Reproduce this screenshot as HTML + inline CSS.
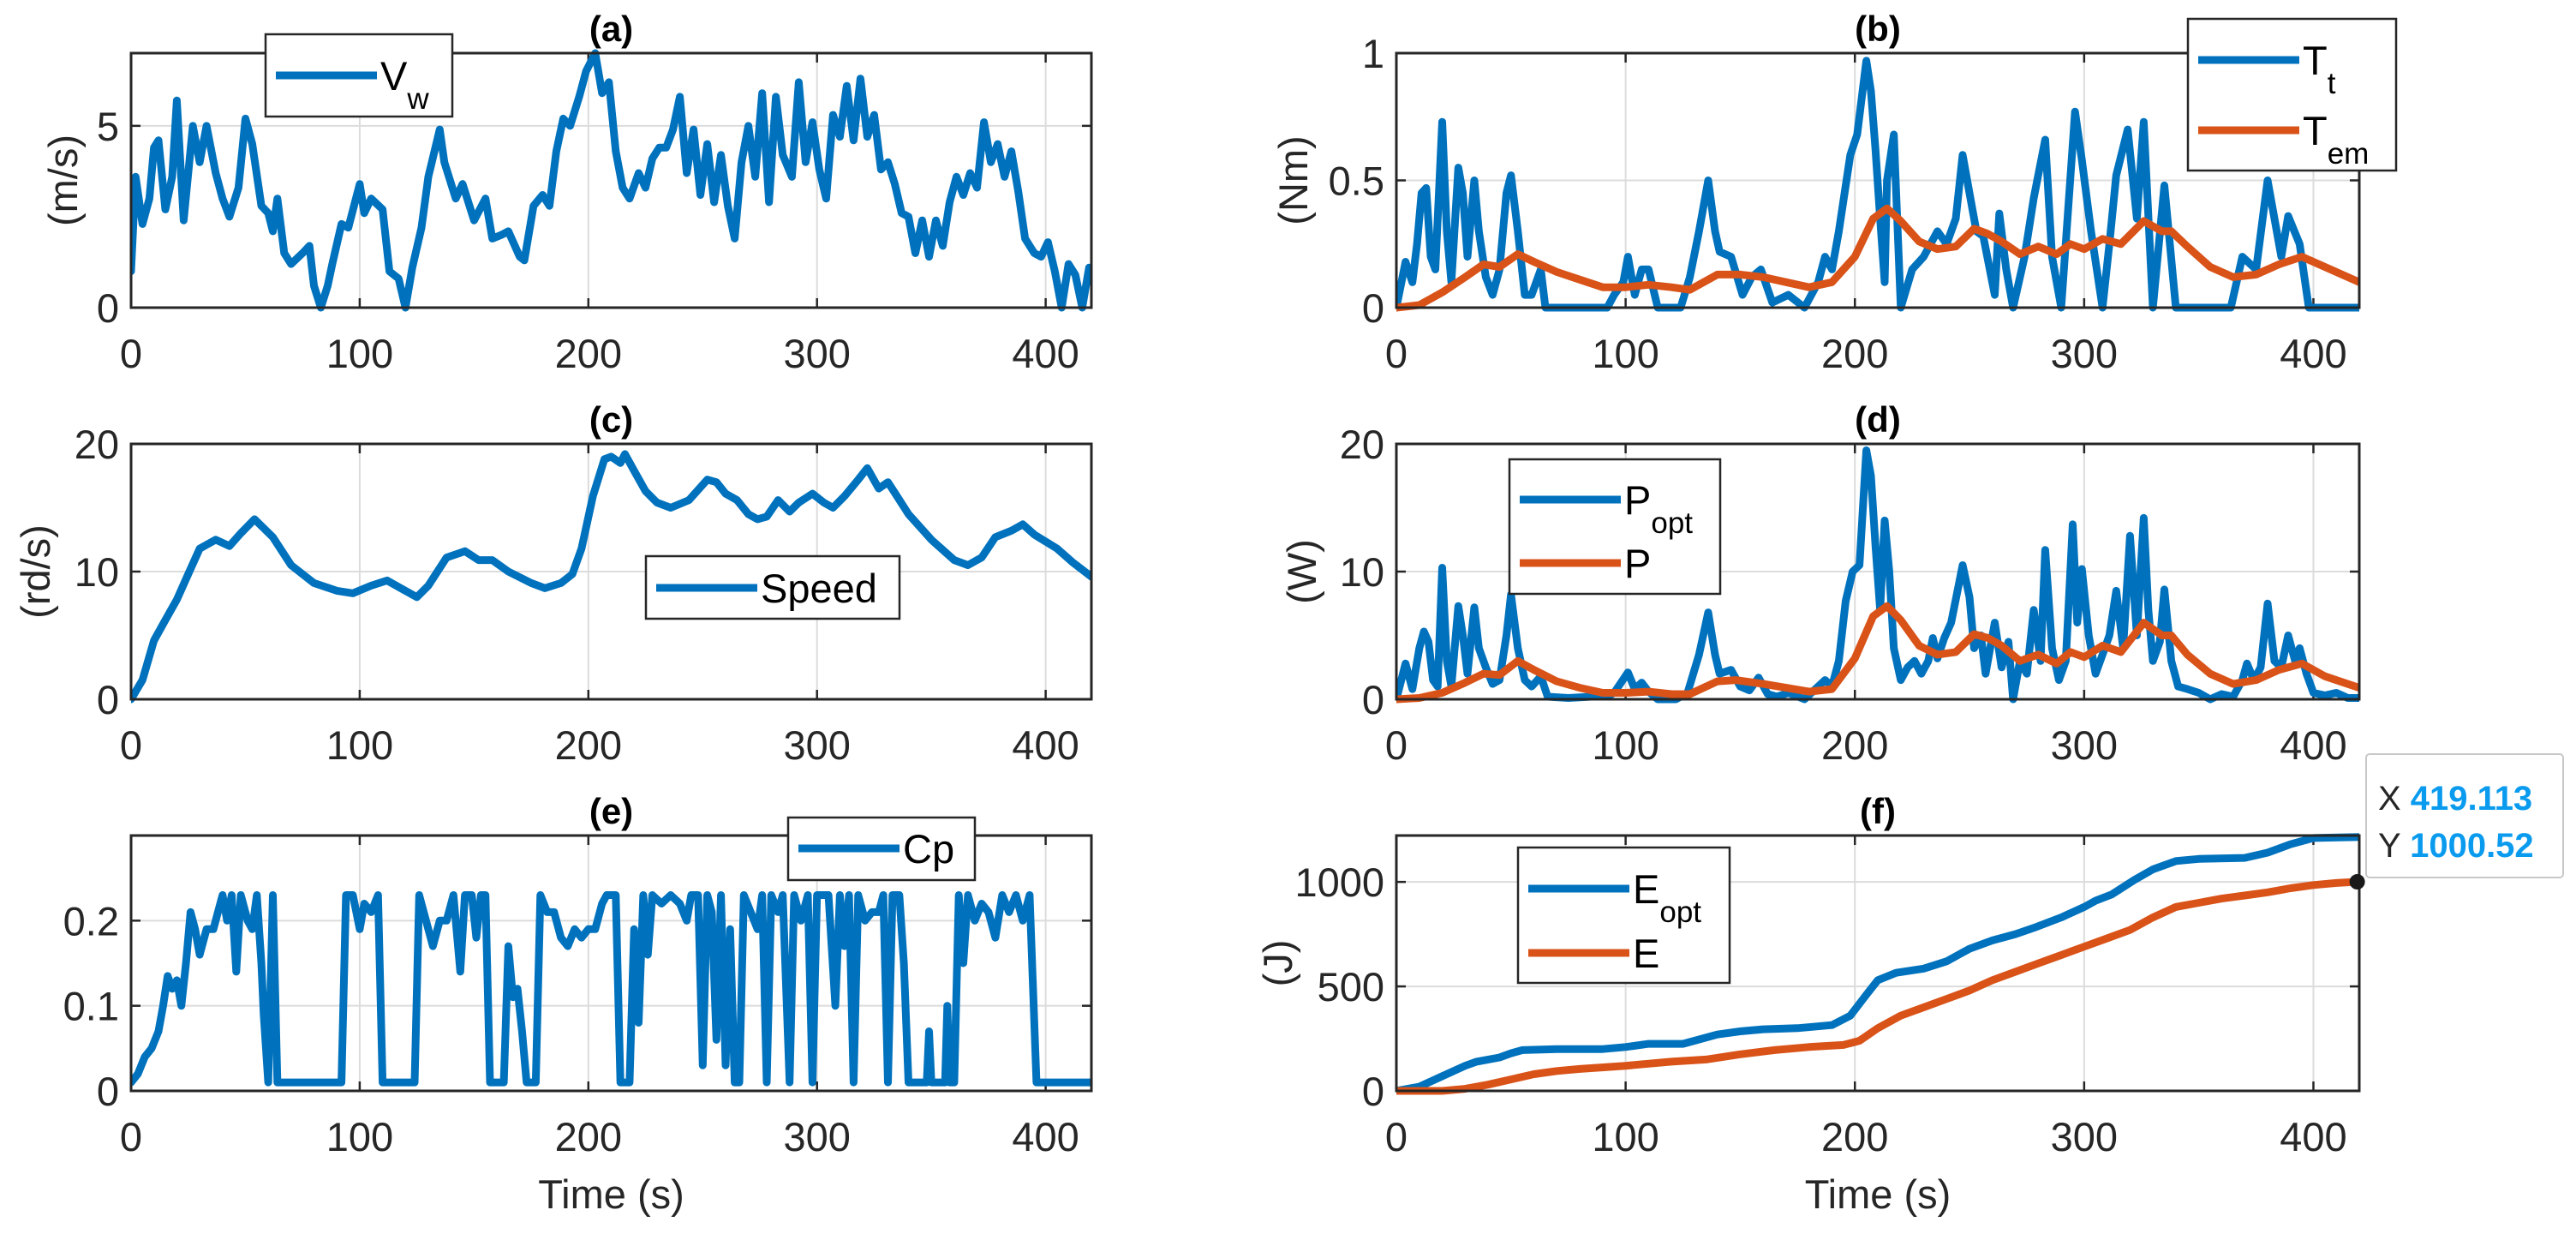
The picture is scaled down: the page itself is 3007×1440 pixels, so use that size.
<!DOCTYPE html>
<html><head><meta charset="utf-8"><style>
html,body{margin:0;padding:0;background:#fff;}
svg{display:block;font-family:"Liberation Sans",Arial,sans-serif;}
</style></head><body>
<svg id="fig" width="3007" height="1440" viewBox="0 0 3007 1440"></svg>
<script>
// ---------- DATA ----------
const xTicks=[0,100,200,300,400];
const xTickLabels=["0","100","200","300","400"];
// (a) wind speed
const aTime=[0,2,5,8,10,12,15,18,20,23,27,30,33,37,40,43,47,50,53,57,60,62,64,67,70,75,78,80,83,86,88,92,95,100,102,105,110,113,117,120,123,127,130,135,137,142,145,150,155,158,162,165,170,172,176,180,183,186,189,192,196,199,203,206,209,212,215,218,222,225,228,231,234,237,240,243,246,249,252,255,258,261,264,267,270,273,276,279,282,285,289,292,295,298,301,304,307,310,313,316,319,322,325,328,331,334,337,340,343,346,349,352,355,358,361,364,367,370,373,376,379,382,385,388,391,395,398,401,404,407,410,413,416,419];
const aVw=[1.0,3.6,2.3,3.0,4.4,4.6,2.7,3.6,5.7,2.4,5.0,4.0,5.0,3.7,3.0,2.5,3.3,5.2,4.5,2.8,2.6,2.1,3.0,1.5,1.2,1.5,1.7,0.6,0.0,0.6,1.2,2.3,2.2,3.4,2.6,3.0,2.7,1.0,0.8,0.0,1.1,2.2,3.6,4.9,4.0,3.0,3.4,2.4,3.0,1.9,2.0,2.1,1.4,1.3,2.8,3.1,2.8,4.3,5.2,5.0,5.8,6.5,7.0,5.9,6.2,4.3,3.3,3.0,3.7,3.3,4.1,4.4,4.4,4.9,5.8,3.7,4.9,3.1,4.5,2.9,4.2,2.8,1.9,4.0,5.0,3.6,5.9,2.9,5.8,4.2,3.6,6.2,4.0,5.1,3.8,3.0,5.3,4.7,6.1,4.6,6.3,4.7,5.3,3.8,4.0,3.4,2.6,2.5,1.5,2.4,1.4,2.4,1.7,2.9,3.6,3.1,3.7,3.3,5.1,4.0,4.5,3.6,4.3,3.2,1.9,1.5,1.4,1.8,1.0,0.0,1.2,0.9,0.0,1.1];
// (b) torques
const bTime=[0,4,7,9,11,13,15,17,20,22,24,27,29,31,34,36,39,42,45,48,50,53,56,59,63,65,92,95,99,101,104,107,110,114,124,128,132,136,139,141,146,151,155,159,164,171,178,184,187,190,193,198,201,205,207,209,211,213,214,217,220,225,230,236,240,244,247,250,253,256,261,263,266,269,274,278,283,286,290,296,299,303,308,311,314,319,323,326,330,335,340,364,369,375,380,386,389,394,398,420];
const bTt=[0,0.18,0.1,0.25,0.45,0.47,0.2,0.15,0.73,0.3,0.1,0.55,0.45,0.2,0.5,0.3,0.12,0.05,0.15,0.45,0.52,0.3,0.05,0.05,0.15,0,0,0.05,0.1,0.2,0.05,0.15,0.15,0,0,0.12,0.3,0.5,0.3,0.22,0.2,0.05,0.12,0.15,0.02,0.05,0,0.1,0.2,0.15,0.3,0.6,0.68,0.97,0.85,0.62,0.35,0.1,0.5,0.68,0.0,0.15,0.2,0.3,0.25,0.35,0.6,0.45,0.3,0.28,0.05,0.37,0.15,0,0.2,0.43,0.66,0.2,0,0.77,0.58,0.3,0,0.25,0.52,0.7,0.35,0.73,0,0.48,0,0,0.2,0.15,0.5,0.2,0.36,0.25,0,0];
const bTemTime=[0,10,20,30,38,45,53,60,70,80,90,100,110,120,128,140,150,160,170,180,190,200,208,214,220,228,236,244,252,258,264,272,280,288,294,300,308,316,326,334,338,345,355,365,375,385,395,405,420];
const bTem=[0,0.01,0.06,0.12,0.17,0.16,0.21,0.18,0.14,0.11,0.08,0.08,0.09,0.08,0.07,0.13,0.13,0.12,0.10,0.08,0.10,0.20,0.35,0.39,0.34,0.26,0.23,0.24,0.31,0.29,0.26,0.21,0.24,0.21,0.25,0.23,0.27,0.25,0.34,0.30,0.30,0.24,0.16,0.12,0.13,0.17,0.20,0.16,0.10];
// (c) speed
const cTime=[0,5,10,15,20,25,30,37,43,48,54,58,62,70,80,90,97,105,112,118,125,130,138,146,152,158,165,175,181,188,193,197,202,207,210,214,216,220,225,230,236,244,252,256,260,265,270,274,278,283,288,292,298,303,307,312,318,322,327,331,335,340,350,360,366,372,378,385,390,395,405,412,420];
const cSpeed=[0,1.5,4.6,6.2,7.8,9.8,11.8,12.5,12.0,13.0,14.1,13.4,12.7,10.5,9.1,8.5,8.3,8.9,9.3,8.7,8.0,8.9,11.1,11.6,10.9,10.9,10.0,9.1,8.7,9.1,9.8,11.8,15.9,18.8,19.0,18.5,19.2,17.9,16.3,15.4,15.0,15.6,17.2,17.0,16.1,15.6,14.5,14.1,14.3,15.6,14.7,15.4,16.1,15.4,15.0,15.9,17.2,18.1,16.5,17.0,15.9,14.5,12.5,10.9,10.5,11.1,12.7,13.2,13.7,12.9,11.8,10.7,9.6];
// (d) powers
const dTime=[0,4,7,10,12,14,16,18,20,22,24,27,29,31,34,36,39,42,45,48,50,53,56,59,63,66,75,85,92,95,101,104,107,110,114,122,127,132,136,139,141,146,150,154,158,162,166,171,178,184,187,190,193,196,199,202,205,207,209,211,213,215,217,220,223,226,229,232,234,236,239,242,247,250,252,255,257,261,264,267,269,272,275,278,281,283,286,289,292,295,297,299,302,305,308,311,314,317,320,323,326,328,330,333,335,338,341,345,350,355,360,365,369,371,374,377,380,383,386,389,392,394,397,400,405,410,415,420];
const dPopt=[0,2.8,0.8,4,5.3,4.5,1.5,1,10.3,3,1,7.3,5,2,7.2,4,2.5,1.2,1.5,5,8.2,4,1.5,1,1.8,0.2,0.1,0.2,0.2,0.5,2.1,0.8,1.3,0.6,0,0,0.5,3.5,6.8,3.5,2,2.3,1,0.7,1.7,0.4,0.2,0.5,0,1,1.5,1,3,7.7,10,10.5,19.5,17.5,12,7,14,10,4,1.5,2.5,3,2,3,4.8,3.2,4.8,6,10.5,8,4,5,2,6,2.5,4.5,0,3,2,7,3,11.7,4,1.5,3,13.7,6,10.2,5,2,3.5,5,8.5,4,12.8,5,14.2,7,3,4.5,8.6,3,1,0.8,0.5,0,0.4,0.2,1.5,2.8,1.5,2.5,7.5,3,2.5,5,3,4,2,0.5,0.3,0.5,0.1,0.1];
const dPTime=[0,10,20,30,38,45,53,60,70,80,90,100,110,120,128,140,148,160,170,180,190,200,208,214,220,228,236,244,252,258,264,272,280,288,294,300,308,316,326,334,338,345,355,365,375,385,395,405,420];
const dP=[0,0.1,0.5,1.3,2.0,1.9,3.0,2.3,1.4,0.9,0.5,0.5,0.6,0.4,0.4,1.4,1.5,1.2,0.9,0.6,0.8,3.2,6.5,7.3,6.2,4.2,3.5,3.7,5.1,4.8,4.2,3.0,3.5,2.8,3.7,3.3,4.2,3.7,6.0,5.0,5.0,3.5,2.0,1.2,1.5,2.3,2.8,1.8,0.9];
// (e) power coefficient
const eTime=[0,3,6,9,12,14,16,18,20,22,24,26,28,30,33,36,38,40,42,44,46,48,51,53,55,57,58,60,62,64,92,94,97,100,102,105,108,110,124,126,129,132,135,138,141,144,146,149,151,153,155,157,163,165,167,169,171,173,177,179,182,185,188,191,194,197,200,203,206,208,212,214,218,220,222,224,226,228,232,236,240,243,245,248,250,252,254,256,258,260,262,264,266,268,271,274,276,278,280,283,285,288,290,293,296,298,300,302,305,308,310,312,314,316,318,321,324,327,329,331,333,336,338,340,348,349,350,356,357,358,360,362,364,366,369,372,375,378,381,384,387,390,393,396,420];
const eCp=[0.01,0.02,0.04,0.05,0.07,0.1,0.135,0.12,0.13,0.1,0.15,0.21,0.19,0.16,0.19,0.19,0.21,0.23,0.2,0.23,0.14,0.23,0.2,0.19,0.23,0.15,0.09,0.01,0.23,0.01,0.01,0.23,0.23,0.19,0.22,0.21,0.23,0.01,0.01,0.23,0.2,0.17,0.2,0.2,0.23,0.14,0.23,0.23,0.18,0.23,0.23,0.01,0.01,0.17,0.11,0.12,0.07,0.01,0.01,0.23,0.21,0.21,0.18,0.17,0.19,0.18,0.19,0.19,0.22,0.23,0.23,0.01,0.01,0.19,0.08,0.23,0.16,0.23,0.22,0.23,0.22,0.2,0.23,0.23,0.03,0.23,0.21,0.06,0.23,0.03,0.19,0.01,0.01,0.23,0.21,0.19,0.23,0.01,0.23,0.21,0.23,0.01,0.23,0.2,0.23,0.01,0.23,0.23,0.23,0.1,0.23,0.17,0.23,0.01,0.23,0.2,0.21,0.21,0.23,0.01,0.23,0.23,0.15,0.01,0.01,0.07,0.01,0.01,0.1,0.01,0.01,0.23,0.15,0.23,0.2,0.22,0.21,0.18,0.23,0.21,0.23,0.2,0.23,0.01,0.01];
// (f) energies
const fOptTime=[0,10,20,30,35,45,50,55,70,90,100,110,125,130,140,150,160,175,190,198,205,210,218,230,240,250,260,270,278,290,300,305,312,322,330,340,350,370,380,390,400,420];
const fEopt=[0,20,70,120,140,160,180,195,200,200,210,225,225,240,270,285,295,300,315,360,460,530,565,585,620,680,720,750,780,830,880,910,940,1010,1060,1100,1110,1115,1140,1180,1210,1215];
const fETime=[0,20,30,40,50,60,70,80,100,120,135,150,165,180,195,202,210,220,230,240,250,260,270,280,290,300,310,320,330,340,350,360,370,380,390,400,410,419.113];
const fE=[0,0,10,30,55,80,95,105,120,140,150,175,195,210,220,240,300,360,400,440,480,530,570,610,650,690,730,770,830,880,900,920,935,950,970,985,995,1000.52];
const tipX=419.113, tipY=1000.52;

// ---------- DRAW ----------
const NS="http://www.w3.org/2000/svg";
const svg=document.getElementById('fig');
const BLUE="#0072BD", ORANGE="#D95319";
function mk(tag,attrs,parent){const e=document.createElementNS(NS,tag);for(const k in attrs)e.setAttribute(k,attrs[k]);(parent||svg).appendChild(e);return e;}

const LX=[153,1274], RX=[1630,2754];
const ROWS=[[62,359],[518,816],[975,1273]];
function makeAxes(name,xr,yr,ymax,yticks,ylabels,title,ylab,ylabX,timeLabel){
  const g=mk('g',{});
  
  
  const sx=v=>xr[0]+(v/420)*(xr[1]-xr[0]);
  const sy=v=>yr[1]-(v/ymax)*(yr[1]-yr[0]);
  mk('rect',{x:xr[0],y:yr[0],width:xr[1]-xr[0],height:yr[1]-yr[0],fill:'#fff'},g);
  xTicks.forEach((t,i)=>{
    const X=sx(t);
    const gl=mk('line',{x1:X,x2:X,y1:yr[0],y2:yr[1],stroke:'#dcdcdc','stroke-width':2},g);
    
    
    mk('line',{x1:X,x2:X,y1:yr[1],y2:yr[1]-11,stroke:'#262626','stroke-width':2.5},g);
    mk('line',{x1:X,x2:X,y1:yr[0],y2:yr[0]+11,stroke:'#262626','stroke-width':2.5},g);
    const tx=mk('text',{x:X,y:yr[1]+70,'font-size':47,'text-anchor':'middle',fill:'#262626'},g);
    tx.textContent=xTickLabels[i];
    
    
  });
  yticks.forEach((t,i)=>{
    const Y=sy(t);
    const gl=mk('line',{x1:xr[0],x2:xr[1],y1:Y,y2:Y,stroke:'#dcdcdc','stroke-width':2},g);
    
    
    mk('line',{x1:xr[0],x2:xr[0]+11,y1:Y,y2:Y,stroke:'#262626','stroke-width':2.5},g);
    mk('line',{x1:xr[1],x2:xr[1]-11,y1:Y,y2:Y,stroke:'#262626','stroke-width':2.5},g);
    const tx=mk('text',{x:xr[0]-14,y:Y+17,'font-size':47,'text-anchor':'end',fill:'#262626'},g);
    tx.textContent=ylabels[i];
    
    
  });
  const tt=mk('text',{x:(xr[0]+xr[1])/2,y:yr[0]-14,'font-size':42,'font-weight':'bold','text-anchor':'middle',fill:'#000'},g);
  tt.textContent=title;
  
  
  if(ylab){
    const cy=(yr[0]+yr[1])/2;
    const yl=mk('text',{x:ylabX,y:cy,'font-size':47,'text-anchor':'middle',fill:'#262626',transform:`rotate(-90 ${ylabX} ${cy}) translate(0 16)`},g);
    yl.textContent=ylab;
    
    
  }
  if(timeLabel){
    const xl=mk('text',{x:(xr[0]+xr[1])/2,y:1410,'font-size':47,'text-anchor':'middle',fill:'#262626'},g);
    xl.textContent='Time (s)';
    
    
  }
  const clipId='c'+name;
  const cp=mk('clipPath',{id:clipId},g);
  mk('rect',{x:xr[0],y:yr[0]-6,width:xr[1]-xr[0],height:yr[1]-yr[0]+12},cp);
  const lines=mk('g',{'clip-path':`url(#${clipId})`},g);
  const box=mk('rect',{x:xr[0],y:yr[0],width:xr[1]-xr[0],height:yr[1]-yr[0],fill:'none',stroke:'#262626','stroke-width':3},g);
  
  
  return {g,lines,sx,sy};
}
function series(ax,ts,vs,color,name){
  const d=ts.map((t,i)=>(i?'L':'M')+ax.sx(t).toFixed(1)+' '+ax.sy(vs[i]).toFixed(1)).join(' ');
  const p=mk('path',{d:d,fill:'none',stroke:color,'stroke-width':9,'stroke-linejoin':'round','stroke-linecap':'round'},ax.lines);
  
  
}
function legend(name,x,y,w,h,entries){
  const g=mk('g',{});
  
  
  mk('rect',{x:x,y:y,width:w,height:h,fill:'#fff',stroke:'#262626','stroke-width':2.5},g);
  entries.forEach(en=>{
    const le=mk('g',{},g);
    
    
    mk('line',{x1:x+12,x2:x+130,y1:en.y,y2:en.y,stroke:en.c,'stroke-width':9},le);
    const t=mk('text',{x:x+134,y:en.y+17,'font-size':47,fill:'#000'},le);
    t.textContent=en.t;
    if(en.s){const s=mk('tspan',{'font-size':35,dy:22},t);s.textContent=en.s;}
  });
}

// (a)
const A=makeAxes('panel-a-wind-speed',LX,ROWS[0],7,[0,5],['0','5'],'(a)','(m/s)',74,false);
series(A,aTime,aVw,BLUE,'vw-line');
legend('legend-a',310,40,218,96,[{y:88,c:BLUE,t:'V',s:'w'}]);
// (b)
const B=makeAxes('panel-b-torque',RX,ROWS[0],1,[0,0.5,1],['0','0.5','1'],'(b)','(Nm)',1510,false);
series(B,bTime,bTt,BLUE,'tt-line');
series(B,bTemTime,bTem,ORANGE,'tem-line');
legend('legend-b',2554,22,243,177,[{y:70,c:BLUE,t:'T',s:'t'},{y:152,c:ORANGE,t:'T',s:'em'}]);
// (c)
const C=makeAxes('panel-c-speed',LX,ROWS[1],20,[0,10,20],['0','10','20'],'(c)','(rd/s)',42,false);
series(C,cTime,cSpeed,BLUE,'speed-line');
legend('legend-c',754,649,296,73,[{y:686,c:BLUE,t:'Speed'}]);
// (d)
const D=makeAxes('panel-d-power',RX,ROWS[1],20,[0,10,20],['0','10','20'],'(d)','(W)',1520,false);
series(D,dTime,dPopt,BLUE,'popt-line');
series(D,dPTime,dP,ORANGE,'p-line');
legend('legend-d',1762,536,246,157,[{y:583,c:BLUE,t:'P',s:'opt'},{y:657,c:ORANGE,t:'P'}]);
// (e)
const E=makeAxes('panel-e-cp',LX,ROWS[2],0.3,[0,0.1,0.2],['0','0.1','0.2'],'(e)',null,0,true);
series(E,eTime,eCp,BLUE,'cp-line');
legend('legend-e',920,954,218,73,[{y:990,c:BLUE,t:'Cp'}]);
// (f)
const F=makeAxes('panel-f-energy',RX,ROWS[2],1222,[0,500,1000],['0','500','1000'],'(f)','(J)',1492,true);
series(F,fOptTime,fEopt,BLUE,'eopt-line');
series(F,fETime,fE,ORANGE,'e-line');
legend('legend-f',1772,989,247,158,[{y:1037,c:BLUE,t:'E',s:'opt'},{y:1112,c:ORANGE,t:'E'}]);

// datatip
const tg=mk('g',{});


const dx=F.sx(tipX), dy=F.sy(tipY);
mk('rect',{x:2762,y:880,width:230,height:144,fill:'#fff',stroke:'#c8c8c8','stroke-width':2,rx:4},tg);
const t1=mk('text',{x:2776,y:945,'font-size':40,fill:'#262626'},tg);
t1.textContent='X ';
const v1=mk('tspan',{'font-weight':'bold',fill:'#0A9BEF'},t1);v1.textContent=tipX.toString();
const t2=mk('text',{x:2776,y:1000,'font-size':40,fill:'#262626'},tg);
t2.textContent='Y ';
const v2=mk('tspan',{'font-weight':'bold',fill:'#0A9BEF'},t2);v2.textContent=tipY.toString();
const dot=mk('circle',{cx:dx,cy:dy,r:9,fill:'#1a1a1a'},tg);


</script>
</body></html>
